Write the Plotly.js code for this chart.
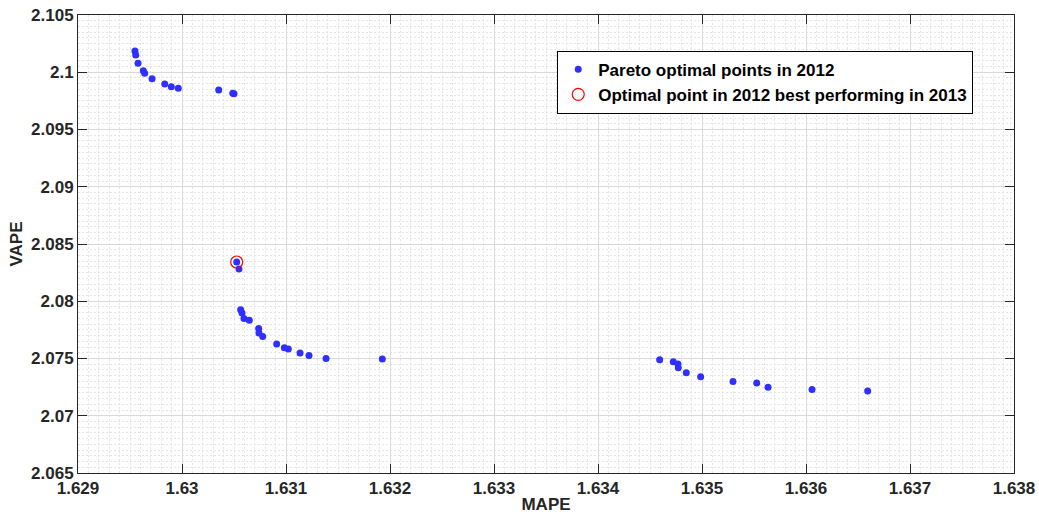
<!DOCTYPE html>
<html>
<head>
<meta charset="utf-8">
<script src="https://cdn.plot.ly/plotly-3.0.1.min.js"></script>
<style>html,body{margin:0;padding:0;background:#fff;}#chart{width:1039px;height:518px;}</style>
</head>
<body>
<div id="chart"></div>
<script>
const mapeValues = [
  1.629548, 1.629555, 1.629577, 1.629628, 1.629641, 1.629712, 1.629834, 1.629897, 1.629964,
  1.630353, 1.630488, 1.630500,
  1.630526, 1.630548, 1.630564, 1.630577, 1.630596, 1.630647, 1.630737, 1.630740, 1.630776,
  1.630910, 1.630984, 1.631022, 1.631135, 1.631221, 1.631385, 1.631926,
  1.634593, 1.634724, 1.634769, 1.634772, 1.634849, 1.634987, 1.635298, 1.635526, 1.635635,
  1.636058, 1.636593
];
const vapeValues = [
  2.10186, 2.10151, 2.10078, 2.10014, 2.09991, 2.09944, 2.09897, 2.09874, 2.09860,
  2.09845, 2.09816, 2.09813,
  2.08343, 2.08282, 2.07926, 2.07897, 2.07850, 2.07833, 2.07762, 2.07722, 2.07693,
  2.07626, 2.07594, 2.07582, 2.07547, 2.07527, 2.07500, 2.07495,
  2.07489, 2.07471, 2.07451, 2.07419, 2.07375, 2.07340, 2.07299, 2.07287, 2.07250,
  2.07229, 2.07217
];
const optimalMape = [1.630526];
const optimalVape = [2.08343];
const seriesNames = ['Pareto optimal points in 2012', 'Optimal point in 2012 best performing in 2013'];
const xTickVals = [1.629, 1.630, 1.631, 1.632, 1.633, 1.634, 1.635, 1.636, 1.637, 1.638];
const xTickText = ['1.629', '1.63', '1.631', '1.632', '1.633', '1.634', '1.635', '1.636', '1.637', '1.638'];
const yTickVals = [2.065, 2.07, 2.075, 2.08, 2.085, 2.09, 2.095, 2.1, 2.105];
const yTickText = ['2.065', '2.07', '2.075', '2.08', '2.085', '2.09', '2.095', '2.1', '2.105'];

const fontFam = '"Liberation Sans", Arial, Helvetica, sans-serif';
const textCol = '#262626';
const b = s => '<b>' + s + '</b>';

const traces = [
  {
    x: mapeValues, y: vapeValues, type: 'scatter', mode: 'markers', name: b(seriesNames[0]),
    marker: {color: '#2f2fff', size: 7, line: {width: 0}}
  },
  {
    x: optimalMape, y: optimalVape, type: 'scatter', mode: 'markers', name: b(seriesNames[1]),
    marker: {symbol: 'circle-open', color: '#ff0000', size: 12, line: {width: 1.2, color: '#ff0000'}}
  }
];

const axisCommon = {
  showline: true, linecolor: '#262626', linewidth: 1, mirror: 'allticks',
  ticks: 'inside', ticklen: 9, tickwidth: 1, tickcolor: '#262626',
  showgrid: true, gridcolor: '#d9d9d9', gridwidth: 1,
  zeroline: false,
  tickfont: {family: fontFam, size: 17, color: textCol},
  tickmode: 'array'
};

const layout = {
  width: 1039, height: 518,
  margin: {l: 78, r: 25, t: 15, b: 45},
  paper_bgcolor: '#ffffff', plot_bgcolor: '#ffffff',
  showlegend: true,
  xaxis: Object.assign({}, axisCommon, {
    range: [1.629, 1.638], tickvals: xTickVals, ticktext: xTickText.map(b),
    minor: {dtick: 0.0001, showgrid: true, gridcolor: '#e4e4e4', griddash: '2px,2px', gridwidth: 1, ticks: ''},
    title: {text: b('MAPE'), font: {family: fontFam, size: 17, color: textCol}, standoff: 0}
  }),
  yaxis: Object.assign({}, axisCommon, {
    range: [2.065, 2.105], tickvals: yTickVals, ticktext: yTickText.map(b),
    minor: {dtick: 0.0005, showgrid: true, gridcolor: '#e4e4e4', griddash: '2px,2px', gridwidth: 1, ticks: ''},
    title: {text: b('VAPE'), font: {family: fontFam, size: 17, color: textCol}, standoff: 4}
  }),
  legend: {
    x: 0.512, y: 0.922, xanchor: 'left', yanchor: 'top',
    bgcolor: '#ffffff', bordercolor: '#000000', borderwidth: 1,
    font: {family: fontFam, size: 17, color: '#000000'},
    itemwidth: 30, tracegroupgap: 0
  }
};

Plotly.newPlot('chart', traces, layout, {displayModeBar: false, staticPlot: true});
</script>
</body>
</html>
